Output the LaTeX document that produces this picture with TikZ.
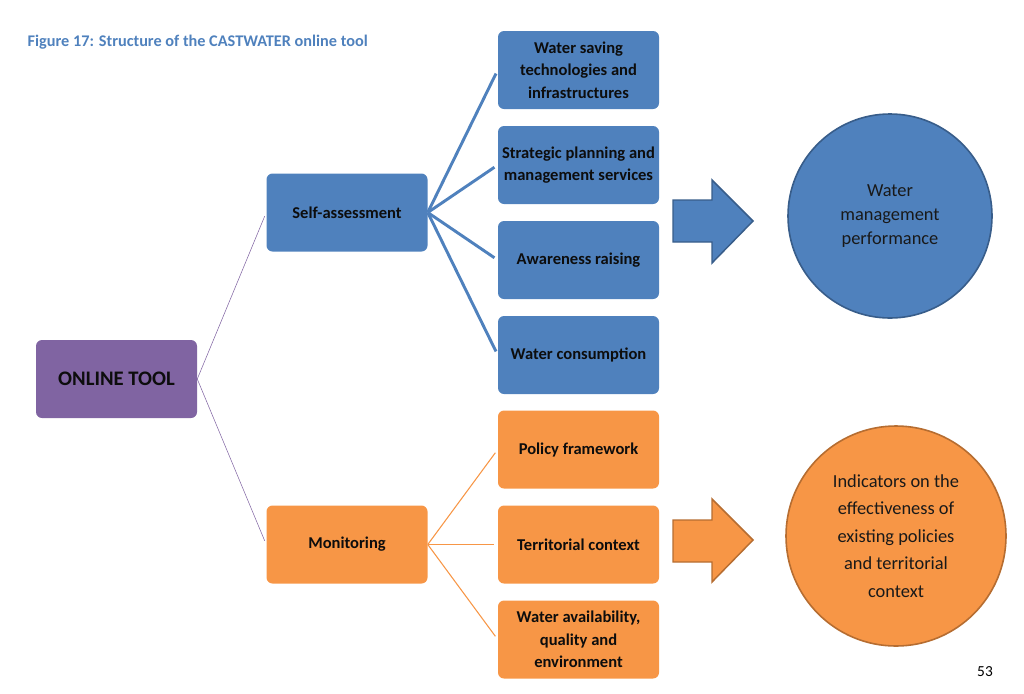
\documentclass[tikz,border=0pt]{standalone}
\usepackage{fontspec}
\setmainfont{Carlito}
\usepackage{tikz}
\usetikzlibrary{positioning,arrows.meta}
\usepackage{xcolor}
\definecolor{ctblue}{HTML}{4F81BD}
\definecolor{ctbluedark}{HTML}{385D8A}
\definecolor{ctorange}{HTML}{F79646}
\definecolor{ctorangedark}{HTML}{B66D31}
\definecolor{ctpurple}{HTML}{8064A2}

\tikzset{
  box/.style={rounded corners=4.5pt, minimum width=120.75pt, minimum height=58.5pt,
    inner sep=2pt, align=center, text=black!95,
    font=\bfseries\fontsize{12.4}{17}\selectfont},
  bluebox/.style={box, fill=ctblue},
  orangebox/.style={box, fill=ctorange},
  result/.style={circle, align=center, text=black!90, line width=1.2pt},
  link/.style={shorten >=3pt}
}

\begin{document}
\begin{tikzpicture}[x=0.75pt, y=-0.75pt]
  \useasboundingbox (0,0) rectangle (1024,693);

  % title and page number
  \node[anchor=west, text=ctblue, font=\bfseries\fontsize{12.2}{14}\selectfont] (title) at (23,42)
    {Figure 17: Structure of the CASTWATER online tool};
  \node[font=\fontsize{11.5}{13}\selectfont] (page) at (985,672) {53};

  % root
  \node[box, fill=ctpurple, font=\bfseries\fontsize{15.5}{18}\selectfont] (tool) at (116.5,379) {ONLINE TOOL};

  % two branches
  \node[bluebox] (self) at (347,212.5) {Self-assessment};
  \node[orangebox] (mon) at (347,544.5) {Monitoring};

  % self-assessment items
  \node[bluebox] (tech) at (578.5,70) {Water saving\\technologies and\\infrastructures};
  \node[bluebox] (plan) at (578.5,165) {Strategic planning and\\management services};
  \node[bluebox] (aware) at (578.5,260) {Awareness raising};
  \node[bluebox] (cons) at (578.5,355) {Water consumption};

  % monitoring items
  \node[orangebox] (policy) at (578.5,449.5) {Policy framework};
  \node[orangebox] (terr) at (578.5,544.5) {Territorial context};
  \node[orangebox] (avail) at (578.5,639.5) {Water availability,\\quality and\\environment};

  % results
  \node[result, fill=ctblue, draw=ctbluedark, minimum size=153pt,
    font=\fontsize{13.8}{18}\selectfont] (perf) at (890,216)
    {Water\\management\\performance};
  \node[result, fill=ctorange, draw=ctorangedark, minimum size=165pt,
    font=\fontsize{13.8}{20.6}\selectfont] (ind) at (896,536)
    {Indicators on the\\effectiveness of\\existing policies\\and territorial\\context};

  % connectors
  \draw[ctpurple, link] (tool.east) -- (self.west);
  \draw[ctpurple, link] (tool.east) -- (mon.west);
  \foreach \n in {tech,plan,aware,cons}
    \draw[ctblue, line width=2.2pt, link] (self.east) -- (\n.west);
  \foreach \n in {policy,terr,avail}
    \draw[ctorange, line width=0.8pt, link] (mon.east) -- (\n.west);

  % block arrows
  \draw[fill=ctblue, draw=ctbluedark, line width=1.1pt]
    (673,200) -- (712,200) -- (712,180) -- (753,221) -- (712,263) -- (712,242) -- (673,242) -- cycle;
  \draw[fill=ctorange, draw=ctorangedark, line width=1.1pt]
    (673,520) -- (712,520) -- (712,499) -- (753,540) -- (712,582) -- (712,562) -- (673,562) -- cycle;
\end{tikzpicture}
\end{document}
